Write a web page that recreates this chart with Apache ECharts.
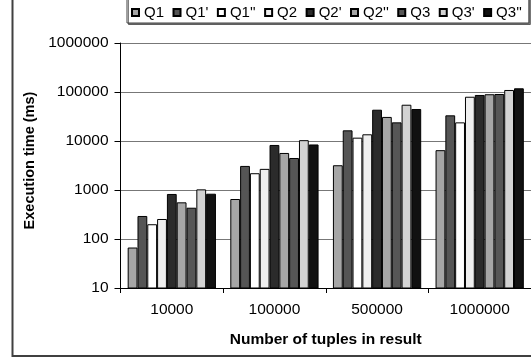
<!DOCTYPE html>
<html>
<head>
<meta charset="utf-8">
<script src="https://cdn.jsdelivr.net/npm/echarts@6/dist/echarts.min.js"></script>
<style>
html,body{margin:0;padding:0;background:#fff;}
#chart{width:531px;height:358px;}
</style>
</head>
<body>
<div id="chart"></div>
<script>
const categories = ['10000', '100000', '500000', '1000000'];
const seriesNames = ['Q1', "Q1'", "Q1''", 'Q2', "Q2'", "Q2''", 'Q3', "Q3'", "Q3''"];
const q1   = [67, 655, 3200, 6500];
const q1p  = [295, 3100, 16500, 33400];
const q1pp = [200, 2200, 11700, 24000];
const q2   = [256, 2700, 13700, 80000];
const q2p  = [830, 8300, 43500, 87000];
const q2pp = [560, 5700, 31000, 90000];
const q3   = [435, 4500, 24000, 91000];
const q3p  = [1030, 10400, 55000, 110000];
const q3pp = [840, 8500, 45000, 119000];
const yTicks = [10, 100, 1000, 10000, 100000, 1000000];

const values = [q1, q1p, q1pp, q2, q2p, q2pp, q3, q3p, q3pp];
const colors = ['#a6a6a6', '#555555', '#ffffff', '#efefef', '#2b2b2b', '#a6a6a6', '#565656', '#d3d3d3', '#111111'];
const font = 'Liberation Sans, Arial, sans-serif';

const chart = echarts.init(document.getElementById('chart'), null, {renderer: 'canvas'});
chart.setOption({
  backgroundColor: '#ffffff',
  animation: false,
  textStyle: {fontFamily: font, color: '#000'},
  graphic: [{
    type: 'rect',
    silent: true,
    z: -10,
    shape: {x: 12.5, y: -10, width: 600, height: 366},
    style: {fill: 'none', stroke: '#404040', lineWidth: 2}
  }],
  legend: {
    left: 127,
    top: -5,
    padding: [10, 7, 3, 4],
    itemWidth: 7,
    itemHeight: 7,
    itemGap: 8.5,
    borderColor: '#404040',
    borderWidth: 1,
    backgroundColor: '#fff',
    shadowColor: 'rgba(0,0,0,0.5)',
    shadowOffsetX: 1.5,
    shadowOffsetY: 1.5,
    icon: 'rect',
    textStyle: {fontFamily: font, fontSize: 15, color: '#000', width: 26, overflow: 'none'},
    data: seriesNames
  },
  grid: {left: 120.5, right: -0.5, top: 43, bottom: 70, containLabel: false},
  xAxis: {
    type: 'category',
    data: categories,
    name: 'Number of tuples in result',
    nameLocation: 'middle',
    nameGap: 44,
    nameTextStyle: {fontFamily: font, fontSize: 15.5, fontWeight: 'bold', color: '#000'},
    axisLine: {lineStyle: {color: '#000', width: 1}},
    axisTick: {show: true, length: 5, inside: false, lineStyle: {color: '#000'}},
    axisLabel: {fontFamily: font, fontSize: 15.5, color: '#000', margin: 14},
    splitLine: {show: false}
  },
  yAxis: {
    type: 'log',
    logBase: 10,
    min: yTicks[0],
    max: yTicks[yTicks.length - 1],
    name: 'Execution time (ms)',
    nameLocation: 'middle',
    nameGap: 80,
    nameRotate: 90,
    nameTextStyle: {fontFamily: font, fontSize: 14.5, fontWeight: 'bold', color: '#000', padding: [0, 0, 0, 10]},
    axisLine: {show: true, lineStyle: {color: '#000', width: 1}},
    axisTick: {show: true, length: 6, inside: false, lineStyle: {color: '#000'}},
    axisLabel: {fontFamily: font, fontSize: 15.5, color: '#000', margin: 12, formatter: v => String(Math.round(v))},
    splitLine: {show: true, lineStyle: {color: '#777777', width: 1}},
    minorTick: {show: false}
  },
  series: seriesNames.map((name, i) => ({
    name: name,
    type: 'bar',
    data: values[i],
    barGap: '0%',
    barCategoryGap: '14%',
    itemStyle: {color: colors[i], borderColor: '#000', borderWidth: 1}
  }))
});
</script>
</body>
</html>
